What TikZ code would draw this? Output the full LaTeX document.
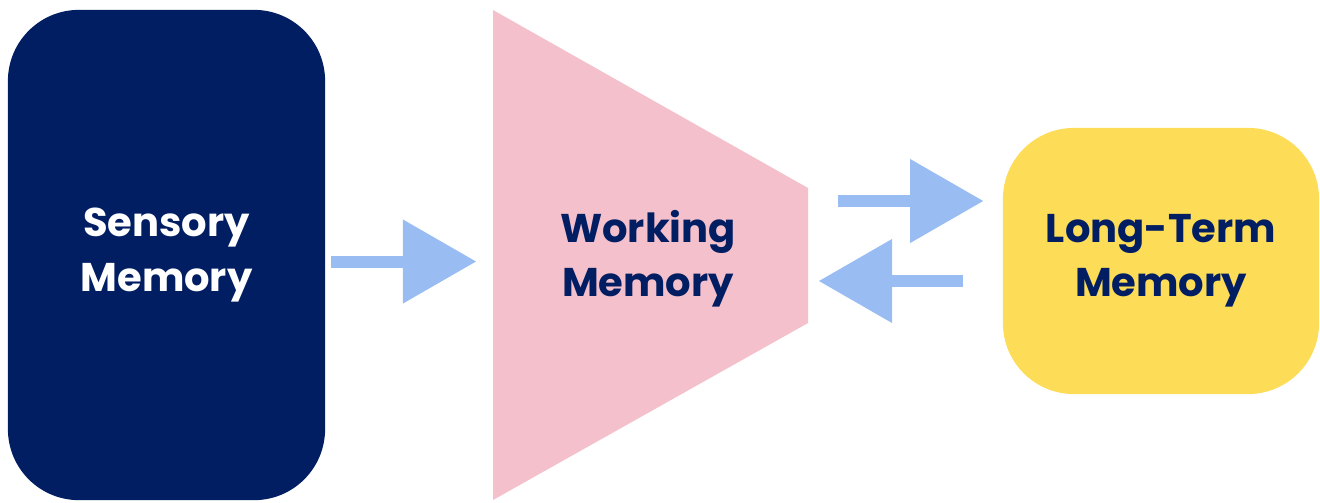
\documentclass[tikz,border=0pt]{standalone}
\usepackage{fontspec}
\setmainfont{Poppins}
\usetikzlibrary{arrows.meta}

\definecolor{navy}{HTML}{021E63}
\definecolor{rose}{HTML}{F4C0CB}
\definecolor{sky}{HTML}{99BDF2}
\definecolor{sun}{HTML}{FDDC57}

\tikzset{
  memblock/.style={inner sep=0pt, rounded corners=0.71cm, align=center,
    font=\fontsize{11.4pt}{15.4pt}\selectfont\bfseries},
  flow/.style={sky, line width=0.12cm,
    -{Triangle[width=0.84cm, length=0.73cm, line width=0pt]}}
}

\begin{document}
\begin{tikzpicture}[x=0.01cm, y=-0.01cm]
\useasboundingbox (0,0) rectangle (1320,502);
\tikzstyle{every node}+=[inner sep=0pt]
% boxes
\node [memblock, fill=navy, text=white, minimum width=3.17cm, minimum height=4.9cm] (sensory) at (166.5,255) {Sensory\\Memory};
\node [memblock, fill=sun, text=navy, minimum width=3.16cm, minimum height=2.66cm] (longterm) at (1161,261) {Long-Term\\Memory};
% funnel
\coordinate (wtl) at (493,10);
\coordinate (wbl) at (493,500);
\coordinate (wtr) at (808,188);
\coordinate (wbr) at (808,323);
\fill [rose] (wtl) -- (wtr) -- (wbr) -- (wbl) -- cycle;
\node [align=center, text=navy, font=\fontsize{11.4pt}{15.4pt}\selectfont\bfseries] (working) at (648,259) {Working\\Memory};
\coordinate (wl) at (493,261.5);
% arrows
\draw [flow, shorten <=0.05cm, shorten >=0.17cm] (sensory.east |- wl) -- (wl);
\draw [flow, shorten <=0.30cm, shorten >=0.19cm] (808,201) coordinate (wout) -- (longterm.west |- wout);
\draw [flow, shorten <=0.39cm, shorten >=0.11cm] (longterm.west |- 0,281) coordinate (lout) -- (wtr |- lout);
\end{tikzpicture}
\end{document}
